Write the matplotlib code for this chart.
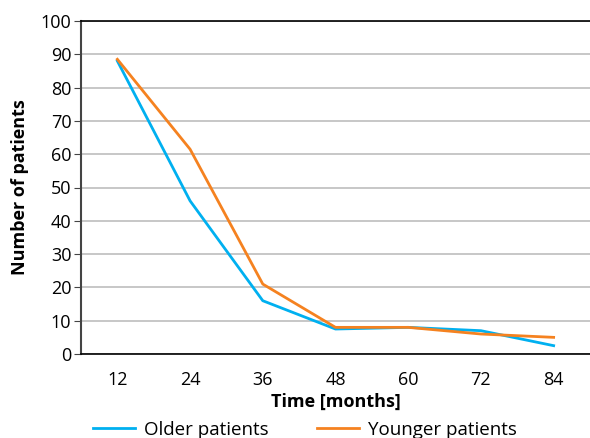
import numpy as np
import matplotlib
matplotlib.use('Agg')
from matplotlib import pyplot as plt

plt.rcParams['font.family'] = ['Open Sans', 'DejaVu Sans']

months = ['12', '24', '36', '48', '60', '72', '84']
older = [88, 46, 16, 7.5, 8, 7, 2.5]
younger = [88.5, 61.5, 21, 8, 8, 6, 5]

fig = plt.figure(figsize=(5.9, 4.38), dpi=100)
ax = fig.add_axes([81/590, 1-354/438, 1-81/590, 333/438])

x = np.arange(len(months))
ax.plot(x, older, color='#00b0f0', lw=2, label='Older patients')
ax.plot(x, younger, color='#f58220', lw=2, label='Younger patients')

ax.set_xlim(-0.5, len(months)-0.5)
ax.set_ylim(0, 100)
ax.set_yticks(np.arange(0, 101, 10))
ax.set_xticks(x)
ax.set_xticklabels(months)
ax.yaxis.grid(True, color='#bdbdbd', lw=1.2)
ax.set_axisbelow(True)
ax.tick_params(axis='x', length=0, pad=12, labelsize=13)
ax.tick_params(axis='y', length=5, color='#444444', labelsize=13, pad=2)
ax.spines['right'].set_visible(False)
ax.spines['top'].set_color('black')
ax.spines['top'].set_linewidth(1.2)
ax.spines['left'].set_color('#444444')
ax.spines['left'].set_linewidth(1.5)
ax.spines['bottom'].set_color('black')
ax.spines['bottom'].set_linewidth(1.2)

ax.set_xlabel('Time [months]', fontweight='bold', fontsize=13, labelpad=3)
ax.set_ylabel('Number of patients', fontweight='bold', fontsize=13, labelpad=8)

fig.legend(loc='center', bbox_to_anchor=(305/590, 1-430/438), ncol=2, frameon=False,
           fontsize=13.5, handlelength=2.2, columnspacing=2.6, handletextpad=0.5)

fig.savefig('out.png', dpi=100)
